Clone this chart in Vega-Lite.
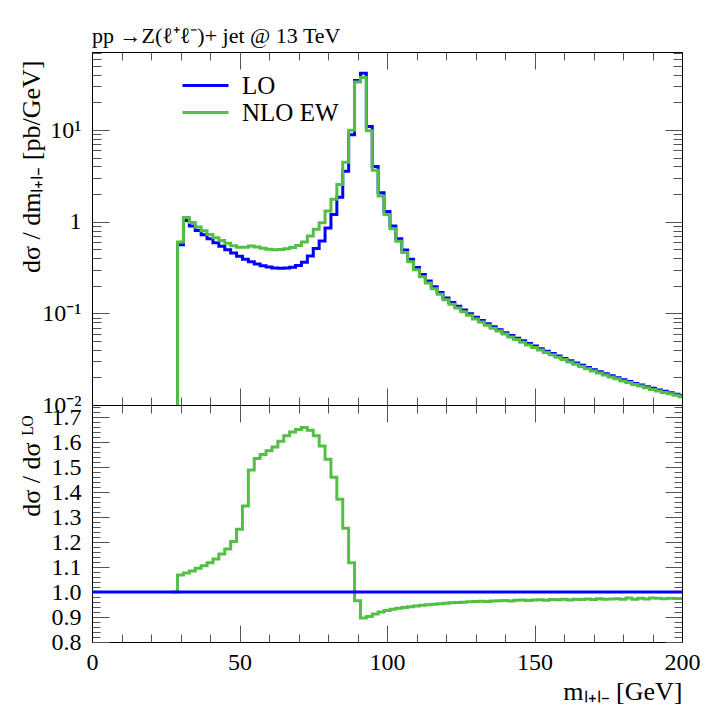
{
  "$schema": "https://vega.github.io/schema/vega-lite/v6.json",
  "autosize": {"type": "pad"},
  "padding": {"left": 18, "top": 24, "right": 0, "bottom": 0},
  "bounds": "flush",
  "spacing": 0,
  "title": {"text": "pp →Z(ℓ⁺ℓ⁻)+ jet @ 13 TeV", "anchor": "start", "frame": "group", "font": "Liberation Serif", "fontSize": 22, "fontWeight": "normal", "color": "#000", "offset": 8, "dy": 15},
  "datasets": {
    "h": [
      {"m":27,"LO":0.0001,"NLO":0.0001,"ratio":1},
      {"m":29,"LO":0.56,"NLO":0.599,"ratio":1.069},
      {"m":31,"LO":1.03,"NLO":1.109,"ratio":1.077},
      {"m":33,"LO":0.90,"NLO":0.977,"ratio":1.085},
      {"m":35,"LO":0.80,"NLO":0.877,"ratio":1.096},
      {"m":37,"LO":0.72,"NLO":0.796,"ratio":1.106},
      {"m":39,"LO":0.65,"NLO":0.727,"ratio":1.118},
      {"m":41,"LO":0.59,"NLO":0.668,"ratio":1.133},
      {"m":43,"LO":0.54,"NLO":0.623,"ratio":1.153},
      {"m":45,"LO":0.495,"NLO":0.581,"ratio":1.173},
      {"m":47,"LO":0.455,"NLO":0.547,"ratio":1.203},
      {"m":49,"LO":0.42,"NLO":0.526,"ratio":1.252},
      {"m":51,"LO":0.39,"NLO":0.525,"ratio":1.345},
      {"m":53,"LO":0.365,"NLO":0.543,"ratio":1.489},
      {"m":55,"LO":0.345,"NLO":0.530,"ratio":1.536},
      {"m":57,"LO":0.33,"NLO":0.512,"ratio":1.552},
      {"m":59,"LO":0.32,"NLO":0.501,"ratio":1.567},
      {"m":61,"LO":0.313,"NLO":0.495,"ratio":1.582},
      {"m":63,"LO":0.31,"NLO":0.498,"ratio":1.605},
      {"m":65,"LO":0.312,"NLO":0.508,"ratio":1.627},
      {"m":67,"LO":0.318,"NLO":0.522,"ratio":1.642},
      {"m":69,"LO":0.333,"NLO":0.550,"ratio":1.652},
      {"m":71,"LO":0.361,"NLO":0.599,"ratio":1.660},
      {"m":73,"LO":0.423,"NLO":0.698,"ratio":1.649},
      {"m":75,"LO":0.509,"NLO":0.828,"ratio":1.627},
      {"m":77,"LO":0.615,"NLO":0.975,"ratio":1.586},
      {"m":79,"LO":0.852,"NLO":1.306,"ratio":1.533},
      {"m":81,"LO":1.20,"NLO":1.752,"ratio":1.460},
      {"m":83,"LO":1.85,"NLO":2.538,"ratio":1.372},
      {"m":85,"LO":3.55,"NLO":4.459,"ratio":1.256},
      {"m":87,"LO":8.89,"NLO":9.939,"ratio":1.118},
      {"m":89,"LO":34.6,"NLO":33.39,"ratio":0.965},
      {"m":91,"LO":41.7,"NLO":37.36,"ratio":0.896},
      {"m":93,"LO":10.9,"NLO":9.832,"ratio":0.902},
      {"m":95,"LO":4.0,"NLO":3.648,"ratio":0.912},
      {"m":97,"LO":2.07,"NLO":1.904,"ratio":0.920},
      {"m":99,"LO":1.29,"NLO":1.195,"ratio":0.926},
      {"m":101,"LO":0.90,"NLO":0.838,"ratio":0.931},
      {"m":103,"LO":0.653,"NLO":0.6106,"ratio":0.935},
      {"m":105,"LO":0.491,"NLO":0.4606,"ratio":0.938},
      {"m":107,"LO":0.389,"NLO":0.366,"ratio":0.941},
      {"m":109,"LO":0.316,"NLO":0.2983,"ratio":0.944},
      {"m":111,"LO":0.265,"NLO":0.251,"ratio":0.947},
      {"m":113,"LO":0.226,"NLO":0.2145,"ratio":0.949},
      {"m":115,"LO":0.195,"NLO":0.1854,"ratio":0.951},
      {"m":117,"LO":0.169,"NLO":0.1611,"ratio":0.953},
      {"m":119,"LO":0.147,"NLO":0.1404,"ratio":0.955},
      {"m":121,"LO":0.1315,"NLO":0.1258,"ratio":0.957},
      {"m":123,"LO":0.1195,"NLO":0.1145,"ratio":0.958},
      {"m":125,"LO":0.1087,"NLO":0.1042,"ratio":0.959},
      {"m":127,"LO":0.0991,"NLO":0.0952,"ratio":0.961},
      {"m":129,"LO":0.0904,"NLO":0.0870,"ratio":0.962},
      {"m":131,"LO":0.0835,"NLO":0.0804,"ratio":0.963},
      {"m":133,"LO":0.0772,"NLO":0.0743,"ratio":0.962},
      {"m":135,"LO":0.0715,"NLO":0.0689,"ratio":0.964},
      {"m":137,"LO":0.0663,"NLO":0.0640,"ratio":0.965},
      {"m":139,"LO":0.0615,"NLO":0.0594,"ratio":0.966},
      {"m":141,"LO":0.0574,"NLO":0.0553,"ratio":0.964},
      {"m":143,"LO":0.0536,"NLO":0.0518,"ratio":0.967},
      {"m":145,"LO":0.0501,"NLO":0.0485,"ratio":0.968},
      {"m":147,"LO":0.0468,"NLO":0.0452,"ratio":0.966},
      {"m":149,"LO":0.0439,"NLO":0.0425,"ratio":0.968},
      {"m":151,"LO":0.0412,"NLO":0.0399,"ratio":0.969},
      {"m":153,"LO":0.0387,"NLO":0.0374,"ratio":0.967},
      {"m":155,"LO":0.0364,"NLO":0.0353,"ratio":0.970},
      {"m":157,"LO":0.0342,"NLO":0.0331,"ratio":0.969},
      {"m":159,"LO":0.0322,"NLO":0.0313,"ratio":0.971},
      {"m":161,"LO":0.0304,"NLO":0.0294,"ratio":0.968},
      {"m":163,"LO":0.0287,"NLO":0.0279,"ratio":0.971},
      {"m":165,"LO":0.0271,"NLO":0.0263,"ratio":0.970},
      {"m":167,"LO":0.0256,"NLO":0.0249,"ratio":0.972},
      {"m":169,"LO":0.0242,"NLO":0.0235,"ratio":0.970},
      {"m":171,"LO":0.0230,"NLO":0.0224,"ratio":0.973},
      {"m":173,"LO":0.0219,"NLO":0.0213,"ratio":0.971},
      {"m":175,"LO":0.0208,"NLO":0.0202,"ratio":0.972},
      {"m":177,"LO":0.0198,"NLO":0.0193,"ratio":0.973},
      {"m":179,"LO":0.0188,"NLO":0.0183,"ratio":0.971},
      {"m":181,"LO":0.0180,"NLO":0.0176,"ratio":0.976},
      {"m":183,"LO":0.0172,"NLO":0.0167,"ratio":0.971},
      {"m":185,"LO":0.0165,"NLO":0.0161,"ratio":0.975},
      {"m":187,"LO":0.0158,"NLO":0.0154,"ratio":0.972},
      {"m":189,"LO":0.0152,"NLO":0.0148,"ratio":0.976},
      {"m":191,"LO":0.0146,"NLO":0.0142,"ratio":0.975},
      {"m":193,"LO":0.0141,"NLO":0.0137,"ratio":0.973},
      {"m":195,"LO":0.0136,"NLO":0.0133,"ratio":0.975},
      {"m":197,"LO":0.0131,"NLO":0.0128,"ratio":0.974},
      {"m":199,"LO":0.0126,"NLO":0.0123,"ratio":0.974},
      {"m":201,"LO":0.0126,"NLO":0.0123,"ratio":0.974}
    ],
    "one": [{"ratio": 1}]
  },
  "vconcat": [
    {
      "width": 590,
      "height": 353,
      "data": {"name": "h"},
      "transform": [{"fold": ["LO", "NLO"], "as": ["key", "val"]}],
      "layer": [
        {
          "mark": {"type": "line", "interpolate": "step-after", "clip": true, "strokeWidth": 3},
          "encoding": {
            "x": {"field": "m", "type": "quantitative", "scale": {"domain": [0, 200], "nice": false, "zero": false},
              "axis": {"orient": "bottom", "values": [0,10,20,30,40,50,60,70,80,90,100,110,120,130,140,150,160,170,180,190,200], "labels": false, "title": null,
                "tickSize": {"condition": {"test": "datum.value % 50 == 0", "value": -17}, "value": -8}}},
            "y": {"field": "val", "type": "quantitative", "scale": {"type": "log", "domain": [0.01, 71], "nice": false},
              "axis": {"orient": "left", "values": [0.01,0.02,0.03,0.04,0.05,0.06,0.07,0.08,0.09,0.1,0.2,0.3,0.4,0.5,0.6,0.7,0.8,0.9,1,2,3,4,5,6,7,8,9,10,20,30,40,50,60,70],
                "labelExpr": "datum.value == 0.01 ? '10⁻²' : datum.value == 0.1 ? '10⁻¹' : datum.value == 1 ? '1' : datum.value == 10 ? '10¹' : ''",
                "tickSize": {"condition": {"test": "datum.value == 0.01 || datum.value == 0.1 || datum.value == 1 || datum.value == 10", "value": -17}, "value": -9},
                "labelPadding": 28,
                "title": "dσ / dmₗ₊ₗ₋  [pb/GeV]", "titleFontSize": 26, "titleAngle": 270, "titleAlign": "right", "titleBaseline": "alphabetic", "titleX": -53, "titleY": 8}},
            "color": {"field": "key", "type": "nominal", "scale": {"domain": ["LO", "NLO"], "range": ["#0000ff", "#53bf45"]},
              "legend": {"orient": "none", "legendX": 100.5, "legendY": 20.5, "title": null, "symbolType": "M-2,0H2", "symbolStrokeWidth": 3, "symbolSize": 529,
                "labelFontSize": 25, "labelFont": "Liberation Serif", "labelColor": "#000", "labelOffset": 23.5, "rowPadding": 1,
                "labelExpr": "datum.label == 'NLO' ? 'NLO EW' : datum.label"}}
          }
        },
        {
          "mark": {"type": "line", "strokeOpacity": 0, "clip": true},
          "encoding": {
            "x": {"field": "m", "type": "quantitative", "scale": {"domain": [0, 200], "nice": false, "zero": false},
              "axis": {"orient": "top", "values": [0,10,20,30,40,50,60,70,80,90,100,110,120,130,140,150,160,170,180,190,200], "labels": false, "title": null,
                "tickSize": {"condition": {"test": "datum.value % 50 == 0", "value": -17}, "value": -8}}},
            "y": {"field": "val", "type": "quantitative", "scale": {"type": "log", "domain": [0.01, 71], "nice": false},
              "axis": {"orient": "right", "values": [0.01,0.02,0.03,0.04,0.05,0.06,0.07,0.08,0.09,0.1,0.2,0.3,0.4,0.5,0.6,0.7,0.8,0.9,1,2,3,4,5,6,7,8,9,10,20,30,40,50,60,70],
                "labels": false, "title": null,
                "tickSize": {"condition": {"test": "datum.value == 0.01 || datum.value == 0.1 || datum.value == 1 || datum.value == 10", "value": -17}, "value": -9}}}
          }
        }
      ],
      "resolve": {"axis": {"x": "independent", "y": "independent"}}
    },
    {
      "width": 590,
      "height": 237,
      "layer": [
        {
          "data": {"name": "h"},
          "mark": {"type": "line", "interpolate": "step-after", "clip": true, "strokeWidth": 3, "color": "#53bf45"},
          "encoding": {
            "x": {"field": "m", "type": "quantitative", "scale": {"domain": [0, 200], "nice": false, "zero": false},
              "axis": {"orient": "bottom", "values": [0,10,20,30,40,50,60,70,80,90,100,110,120,130,140,150,160,170,180,190,200],
                "labelExpr": "datum.value % 50 == 0 ? datum.label : ''", "labelPadding": 25,
                "tickSize": {"condition": {"test": "datum.value % 50 == 0", "value": -17}, "value": -8},
                "title": "mₗ₊ₗ₋   [GeV]", "titleFontSize": 26, "titleAlign": "right", "titleBaseline": "alphabetic", "titleX": 590, "titleY": 57, "titleAngle": 0}},
            "y": {"field": "ratio", "type": "quantitative", "scale": {"domain": [0.8, 1.75], "nice": false, "zero": false},
              "axis": {"orient": "left", "values": [0.8,0.82,0.84,0.86,0.88,0.9,0.92,0.94,0.96,0.98,1,1.02,1.04,1.06,1.08,1.1,1.12,1.14,1.16,1.18,1.2,1.22,1.24,1.26,1.28,1.3,1.32,1.34,1.36,1.38,1.4,1.42,1.44,1.46,1.48,1.5,1.52,1.54,1.56,1.58,1.6,1.62,1.64,1.66,1.68,1.7,1.72,1.74],
                "labelExpr": "abs(datum.value*10 - round(datum.value*10)) < 0.01 ? format(datum.value, '.1f') : ''",
                "tickSize": {"condition": {"test": "abs(datum.value*10 - round(datum.value*10)) < 0.01", "value": -17}, "value": -8},
                "labelPadding": 28,
                "title": "dσ / dσ ᴸᴼ", "titleFontSize": 26, "titleAngle": 270, "titleAlign": "right", "titleBaseline": "alphabetic", "titleX": -53, "titleY": 10}}
          }
        },
        {
          "data": {"name": "one"},
          "mark": {"type": "rule", "color": "#0000ff", "strokeWidth": 3},
          "encoding": {
            "y": {"field": "ratio", "type": "quantitative", "scale": {"domain": [0.8, 1.75], "nice": false, "zero": false}, "axis": null}
          }
        },
        {
          "data": {"name": "h"},
          "mark": {"type": "line", "strokeOpacity": 0, "clip": true},
          "encoding": {
            "x": {"field": "m", "type": "quantitative", "scale": {"domain": [0, 200], "nice": false, "zero": false},
              "axis": {"orient": "top", "values": [0,10,20,30,40,50,60,70,80,90,100,110,120,130,140,150,160,170,180,190,200], "labels": false, "title": null,
                "tickSize": {"condition": {"test": "datum.value % 50 == 0", "value": -17}, "value": -8}}},
            "y": {"field": "ratio", "type": "quantitative", "scale": {"domain": [0.8, 1.75], "nice": false, "zero": false},
              "axis": {"orient": "right", "values": [0.8,0.82,0.84,0.86,0.88,0.9,0.92,0.94,0.96,0.98,1,1.02,1.04,1.06,1.08,1.1,1.12,1.14,1.16,1.18,1.2,1.22,1.24,1.26,1.28,1.3,1.32,1.34,1.36,1.38,1.4,1.42,1.44,1.46,1.48,1.5,1.52,1.54,1.56,1.58,1.6,1.62,1.64,1.66,1.68,1.7,1.72,1.74],
                "labels": false, "title": null,
                "tickSize": {"condition": {"test": "abs(datum.value*10 - round(datum.value*10)) < 0.01", "value": -17}, "value": -8}}}
          }
        }
      ],
      "resolve": {"axis": {"x": "independent", "y": "independent"}}
    }
  ],
  "config": {
    "font": "Liberation Serif",
    "view": {"stroke": null},
    "axis": {"domainColor": "#000", "domainWidth": 1, "tickColor": "#555", "tickWidth": 1, "grid": false,
      "labelFont": "Liberation Serif", "labelFontSize": 24, "labelColor": "#000", "labelFlush": false, "labelOverlap": false,
      "titleFont": "Liberation Serif", "titleFontSize": 25, "titleFontWeight": "normal", "titleColor": "#000"}
  }
}
